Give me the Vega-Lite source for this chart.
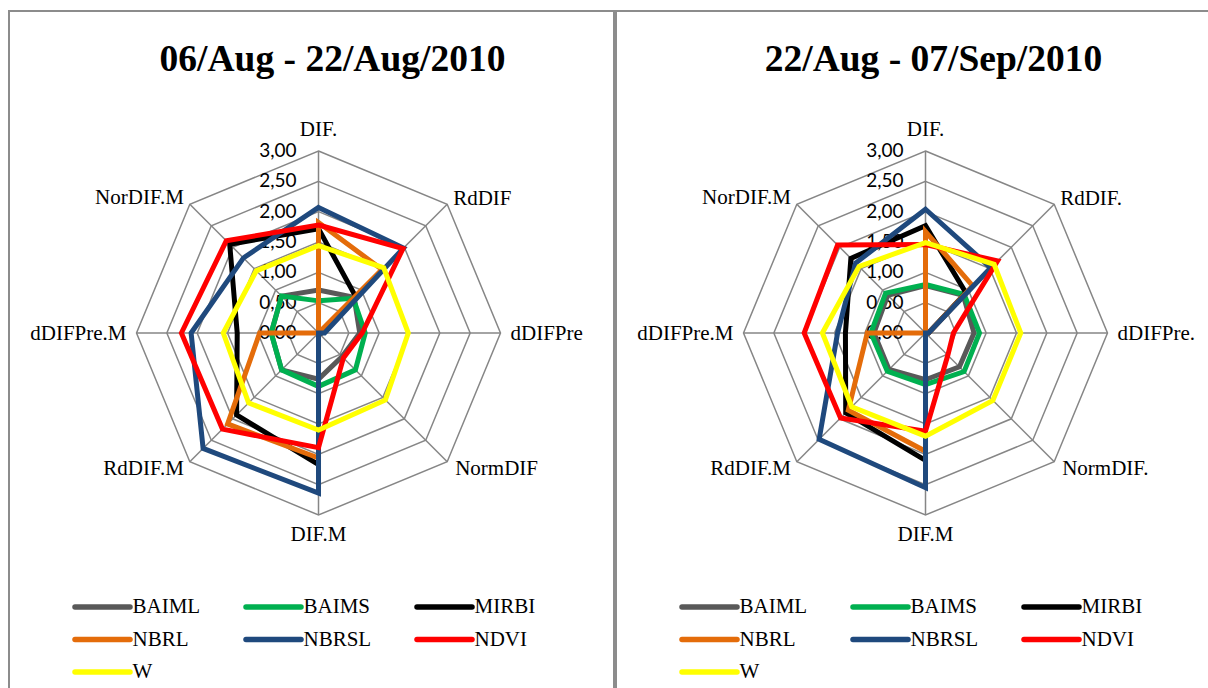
{
"$schema":"https://vega.github.io/schema/vega-lite/v6.json",
"padding":{"left":8,"top":10,"right":0,"bottom":0},
"background":"white",
"config":{"view":{"stroke":"#8c8c8c","strokeWidth":2},"font":"Liberation Serif"},
"datasets":{
"ticks":[{"r":0,"lab":"0,00","ks":[0,1,2,3,4,5,6,7]},{"r":0.5,"lab":"0,50","ks":[0,1,2,3,4,5,6,7]},{"r":1,"lab":"1,00","ks":[0,1,2,3,4,5,6,7]},{"r":1.5,"lab":"1,50","ks":[0,1,2,3,4,5,6,7]},{"r":2,"lab":"2,00","ks":[0,1,2,3,4,5,6,7]},{"r":2.5,"lab":"2,50","ks":[0,1,2,3,4,5,6,7]},{"r":3,"lab":"3,00","ks":[0,1,2,3,4,5,6,7]}],
"axes":[{"k":0,"l1":"DIF.","l2":"DIF."},{"k":1,"l1":"RdDIF","l2":"RdDIF."},{"k":2,"l1":"dDIFPre","l2":"dDIFPre."},{"k":3,"l1":"NormDIF","l2":"NormDIF."},{"k":4,"l1":"DIF.M","l2":"DIF.M"},{"k":5,"l1":"RdDIF.M","l2":"RdDIF.M"},{"k":6,"l1":"dDIFPre.M","l2":"dDIFPre.M"},{"k":7,"l1":"NorDIF.M","l2":"NorDIF.M"}],
"p1":[
{"k":0,"BAIML":0.71,"BAIMS":0.53,"MIRBI":1.72,"NBRL":1.82,"NBRSL":2.07,"NDVI":1.78,"W":1.44},
{"k":1,"BAIML":0.83,"BAIMS":0.81,"MIRBI":0.86,"NBRL":1.48,"NBRSL":1.98,"NDVI":1.97,"W":1.52},
{"k":2,"BAIML":0.68,"BAIMS":0.77,"MIRBI":0.05,"NBRL":0.0,"NBRSL":0.1,"NDVI":0.72,"W":1.48},
{"k":3,"BAIML":0.55,"BAIMS":0.86,"MIRBI":0.0,"NBRL":0.0,"NBRSL":0.0,"NDVI":0.58,"W":1.56},
{"k":4,"BAIML":0.76,"BAIMS":0.88,"MIRBI":2.17,"NBRL":2.06,"NBRSL":2.64,"NDVI":1.89,"W":1.6},
{"k":5,"BAIML":0.86,"BAIMS":0.86,"MIRBI":1.91,"NBRL":2.12,"NBRSL":2.69,"NDVI":2.24,"W":1.63},
{"k":6,"BAIML":0.78,"BAIMS":0.78,"MIRBI":1.34,"NBRL":0.97,"NBRSL":2.1,"NDVI":2.26,"W":1.57},
{"k":7,"BAIML":0.86,"BAIMS":0.86,"MIRBI":2.07,"NBRL":0.0,"NBRSL":1.75,"NDVI":2.15,"W":1.45}],
"p2":[
{"k":0,"BAIML":0.78,"BAIMS":0.8,"MIRBI":1.77,"NBRL":1.67,"NBRSL":2.04,"NDVI":1.46,"W":1.49},
{"k":1,"BAIML":0.88,"BAIMS":0.9,"MIRBI":0.94,"NBRL":1.1,"NBRSL":1.52,"NDVI":1.68,"W":1.6},
{"k":2,"BAIML":0.8,"BAIMS":0.89,"MIRBI":0.05,"NBRL":0.05,"NBRSL":0.05,"NDVI":0.46,"W":1.57},
{"k":3,"BAIML":0.79,"BAIMS":0.9,"MIRBI":0.0,"NBRL":0.0,"NBRSL":0.0,"NDVI":0.52,"W":1.57},
{"k":4,"BAIML":0.77,"BAIMS":0.85,"MIRBI":2.1,"NBRL":1.95,"NBRSL":2.55,"NDVI":1.62,"W":1.7},
{"k":5,"BAIML":0.85,"BAIMS":0.89,"MIRBI":1.86,"NBRL":1.8,"NBRSL":2.48,"NDVI":1.98,"W":1.72},
{"k":6,"BAIML":0.85,"BAIMS":0.9,"MIRBI":1.32,"NBRL":0.96,"NBRSL":1.45,"NDVI":2.0,"W":1.7},
{"k":7,"BAIML":0.88,"BAIMS":0.93,"MIRBI":1.74,"NBRL":0.0,"NBRSL":1.63,"NDVI":2.05,"W":1.55}]
},
"hconcat":[
{
"width":605,"height":680,
"title":{"text":"06/Aug - 22/Aug/2010","font":"Liberation Serif","fontSize":37.5,"fontWeight":"bold","color":"black","anchor":"middle","frame":"group","offset":-97,"dx":21,"baseline":"alphabetic"},
"encoding":{"x":{"field":"x","type":"quantitative","scale":{"domain":[-5.102,4.871],"nice":false,"zero":false},"axis":null},"y":{"field":"y","type":"quantitative","scale":{"domain":[-5.901,5.308],"nice":false,"zero":false},"axis":null}},
"layer":[
{"data":{"name":"ticks"},"transform":[{"filter":"datum.r>0"},{"flatten":["ks"],"as":["k"]},{"calculate":"datum.r*sin(datum.k*PI/4)","as":"x"},{"calculate":"datum.r*cos(datum.k*PI/4)","as":"y"}],"mark":{"type":"line","interpolate":"linear-closed","stroke":"#868686","strokeWidth":1.5},"encoding":{"detail":{"field":"r","type":"nominal"},"order":{"field":"k","type":"quantitative"}}},
{"data":{"name":"axes"},"transform":[{"calculate":"3*sin(datum.k*PI/4)","as":"x"},{"calculate":"3*cos(datum.k*PI/4)","as":"y"}],"mark":{"type":"rule","stroke":"#868686","strokeWidth":1.5},"encoding":{"x2":{"datum":0},"y2":{"datum":0}}},
{"data":{"name":"ticks"},"transform":[{"calculate":"0","as":"x"},{"calculate":"datum.r","as":"y"}],"mark":{"type":"text","font":"Lato","fontSize":19,"align":"right","baseline":"middle","dx":-22,"color":"black"},"encoding":{"text":{"field":"lab","type":"nominal"}}},
{"data":{"name":"p1"},"transform":[{"fold":["BAIML","BAIMS","MIRBI","NBRL","NBRSL","NDVI","W"],"as":["s","v"]},{"calculate":"datum.v*sin(datum.k*PI/4)","as":"x"},{"calculate":"datum.v*cos(datum.k*PI/4)","as":"y"}],
"mark":{"type":"line","interpolate":"linear-closed","strokeWidth":5,"strokeJoin":"miter","strokeMiterLimit":4},
"encoding":{"color":{"field":"s","type":"nominal","scale":{"domain":["BAIML","BAIMS","MIRBI","NBRL","NBRSL","NDVI","W"],"range":["#595959","#00B050","#000000","#E46C0A","#1F497D","#FF0000","#FFFF00"]},
"legend":{"title":null,"orient":"none","direction":"horizontal","legendX":80.5,"legendY":583,"columns":3,"gridAlign":"all","columnPadding":34,"rowPadding":8.5,"symbolType":"M-2.75,0H2.75","symbolSize":400,"symbolStrokeWidth":5.5,"labelFont":"'Liberation Serif', 'Times New Roman', serif","labelFontSize":21,"labelColor":"black","labelOffset":17,"padding":0,"labelLimit":300,"encode":{"symbols":{"update":{"strokeCap":{"value":"round"}}}}}},
"order":{"field":"k","type":"quantitative"}}},
{"data":{"name":"axes"},"transform":[{"calculate":"3*sin(datum.k*PI/4)","as":"x"},{"calculate":"3*cos(datum.k*PI/4)","as":"y"}],"mark":{"type":"text","font":"'Liberation Serif', 'Times New Roman', serif","fontSize":21,"color":"black","baseline":"alphabetic","align":{"expr":"datum.k==0||datum.k==4?'center':(datum.k<4?'left':'right')"},"dx":{"expr":"[0,6,10,8,0,-6,-10,-6][datum.k]"},"dy":{"expr":"[-15,1,7,13,26,13,7,0][datum.k]"}},"encoding":{"text":{"field":"l1","type":"nominal"}}}
]
},
{
"width":605,"height":680,
"title":{"text":"22/Aug - 07/Sep/2010","font":"Liberation Serif","fontSize":37.5,"fontWeight":"bold","color":"black","anchor":"middle","frame":"group","offset":-97,"dx":15,"baseline":"alphabetic"},
"encoding":{"x":{"field":"x","type":"quantitative","scale":{"domain":[-5.102,4.871],"nice":false,"zero":false},"axis":null},"y":{"field":"y","type":"quantitative","scale":{"domain":[-5.901,5.308],"nice":false,"zero":false},"axis":null}},
"layer":[
{"data":{"name":"ticks"},"transform":[{"filter":"datum.r>0"},{"flatten":["ks"],"as":["k"]},{"calculate":"datum.r*sin(datum.k*PI/4)","as":"x"},{"calculate":"datum.r*cos(datum.k*PI/4)","as":"y"}],"mark":{"type":"line","interpolate":"linear-closed","stroke":"#868686","strokeWidth":1.5},"encoding":{"detail":{"field":"r","type":"nominal"},"order":{"field":"k","type":"quantitative"}}},
{"data":{"name":"axes"},"transform":[{"calculate":"3*sin(datum.k*PI/4)","as":"x"},{"calculate":"3*cos(datum.k*PI/4)","as":"y"}],"mark":{"type":"rule","stroke":"#868686","strokeWidth":1.5},"encoding":{"x2":{"datum":0},"y2":{"datum":0}}},
{"data":{"name":"ticks"},"transform":[{"calculate":"0","as":"x"},{"calculate":"datum.r","as":"y"}],"mark":{"type":"text","font":"Lato","fontSize":19,"align":"right","baseline":"middle","dx":-22,"color":"black"},"encoding":{"text":{"field":"lab","type":"nominal"}}},
{"data":{"name":"p2"},"transform":[{"fold":["BAIML","BAIMS","MIRBI","NBRL","NBRSL","NDVI","W"],"as":["s","v"]},{"calculate":"datum.v*sin(datum.k*PI/4)","as":"x"},{"calculate":"datum.v*cos(datum.k*PI/4)","as":"y"}],
"mark":{"type":"line","interpolate":"linear-closed","strokeWidth":5,"strokeJoin":"miter","strokeMiterLimit":4},
"encoding":{"color":{"field":"s","type":"nominal","scale":{"domain":["BAIML","BAIMS","MIRBI","NBRL","NBRSL","NDVI","W"],"range":["#595959","#00B050","#000000","#E46C0A","#1F497D","#FF0000","#FFFF00"]},
"legend":{"title":null,"orient":"none","direction":"horizontal","legendX":80.5,"legendY":583,"columns":3,"gridAlign":"all","columnPadding":34,"rowPadding":8.5,"symbolType":"M-2.75,0H2.75","symbolSize":400,"symbolStrokeWidth":5.5,"labelFont":"'Liberation Serif', 'Times New Roman', serif","labelFontSize":21,"labelColor":"black","labelOffset":17,"padding":0,"labelLimit":300,"encode":{"symbols":{"update":{"strokeCap":{"value":"round"}}}}}},
"order":{"field":"k","type":"quantitative"}}},
{"data":{"name":"axes"},"transform":[{"calculate":"3*sin(datum.k*PI/4)","as":"x"},{"calculate":"3*cos(datum.k*PI/4)","as":"y"}],"mark":{"type":"text","font":"'Liberation Serif', 'Times New Roman', serif","fontSize":21,"color":"black","baseline":"alphabetic","align":{"expr":"datum.k==0||datum.k==4?'center':(datum.k<4?'left':'right')"},"dx":{"expr":"[0,6,10,8,0,-6,-10,-6][datum.k]"},"dy":{"expr":"[-15,1,7,13,26,13,7,0][datum.k]"}},"encoding":{"text":{"field":"l2","type":"nominal"}}}
]
}
],
"spacing":0,
"resolve":{"scale":{"color":"independent"},"legend":{"color":"independent"}}
}
